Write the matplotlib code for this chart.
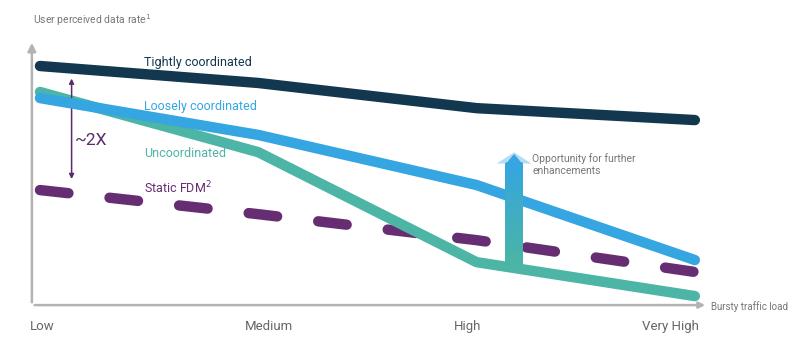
import numpy as np
import matplotlib.pyplot as plt
from matplotlib.patches import Polygon

plt.rcParams['font.family'] = ['Roboto', 'DejaVu Sans']

# relative user perceived data rate (0 = x axis, 100 = top of y axis)
loads = ["Low", "Medium", "High", "Very High"]
tightly = [90.2, 83.8, 74.3, 69.8]
loosely = [78.1, 64.2, 45.3, 17.0]
uncoord = [80.4, 57.7, 16.2, 3.4]
static_fdm = [43.4, 34.3, 24.5, 12.5]

x = np.arange(len(loads))

fig = plt.figure(figsize=(8.04, 3.43), dpi=100)
ax = fig.add_axes([0, 0, 1, 1])
ax.axis('off')

gray = '#b3b3b3'
# axes with arrow heads
ax.annotate('', xy=(-0.037, 100), xytext=(-0.037, 0),
            arrowprops=dict(arrowstyle='-|>', color=gray, lw=1.8, mutation_scale=12))
ax.annotate('', xy=(3.06, 0), xytext=(-0.037, 0),
            arrowprops=dict(arrowstyle='-|>', color=gray, lw=1.8, mutation_scale=9))
ax.text(-0.033, 104.5, 'User perceived data rate$^1$', fontsize=7.5, color='#777777',
        va='bottom', ha='left')
ax.text(3.075, -0.6, 'Bursty traffic load', fontsize=7, color='#777777',
        va='center', ha='left')

tick_pos = [0.01, 1.05, 1.96, 2.89]
for tp, lab in zip(tick_pos, loads):
    ax.text(tp, -8, lab, fontsize=9.5, color='#666666', ha='center', va='center')

ax.plot(x, static_fdm, color='#662d73', lw=7.5, dashes=(2.75, 3.97),
        dash_capstyle='round', zorder=2)
ax.plot(x, uncoord, color='#4db5a5', lw=7.5, solid_capstyle='round',
        solid_joinstyle='round', zorder=3)
ax.plot(x, loosely, color='#35a6e2', lw=7.5, solid_capstyle='round',
        solid_joinstyle='round', zorder=4)
ax.plot(x, tightly, color='#12374f', lw=7.5, solid_capstyle='round',
        solid_joinstyle='round', zorder=5)

# series labels
ax.text(0.476, 91.5, 'Tightly coordinated', fontsize=9, color='#12374f', va='center')
ax.text(0.476, 75.0, 'Loosely coordinated', fontsize=9, color='#35a6e2', va='center')
ax.text(0.476, 57.3, 'Uncoordinated', fontsize=9, color='#4db5a5', va='center')
ax.text(0.476, 44.2, 'Static FDM$^2$', fontsize=9, color='#662d73', va='center')

# ~2X gap arrow
purple = '#5b2b6b'
ax.annotate('', xy=(0.145, 86.5), xytext=(0.145, 46.5),
            arrowprops=dict(arrowstyle='<|-|>', color=purple, lw=1.1, mutation_scale=7))
ax.text(0.16, 62.0, '~2X', fontsize=12.5, color=purple, va='center', ha='left')

# opportunity arrow with gradient shaft
xc = 2.172
half = 0.041
y_bot, y_top = 15.1, 53.6
grad = np.linspace(0, 1, 256).reshape(-1, 1)
cmap = plt.matplotlib.colors.LinearSegmentedColormap.from_list(
    'opp', ['#4bb5a4', '#35a6e2'])
ax.imshow(grad, extent=(xc - half, xc + half, y_bot, y_top), origin='lower',
          cmap=cmap, aspect='auto', zorder=6)
head = Polygon([(xc - 0.08, 53.4), (xc, 57.6), (xc + 0.08, 53.4),
                (xc + 0.045, 53.4), (xc, 55.6), (xc - 0.045, 53.4)],
               closed=True, facecolor='#b5dcf3', edgecolor='none', zorder=6)
ax.add_patch(head)
tip = Polygon([(xc - half, 53.0), (xc, 57.0), (xc + half, 53.0)], closed=True,
              facecolor='#35a6e2', edgecolor='none', zorder=7)
ax.add_patch(tip)
ax.text(2.255, 53.0, 'Opportunity for further\nenhancements', fontsize=7.5,
        color='#777777', va='center', ha='left', linespacing=1.2)

ax.set_xlim(-0.183, 3.50)
ax.set_ylim(-14.3, 115.1)

fig.savefig('out.png', dpi=100)
